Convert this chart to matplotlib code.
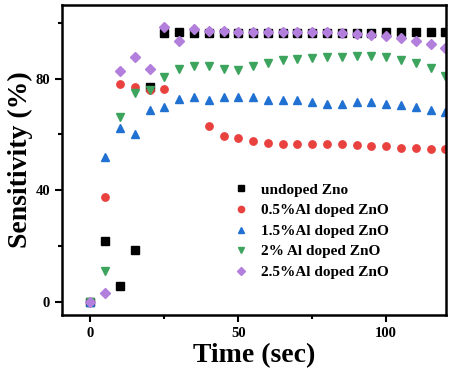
import matplotlib
matplotlib.use('Agg')
import matplotlib.pyplot as plt
from matplotlib.ticker import MultipleLocator
import numpy as np

time = list(range(0, 125, 5))

undoped = [0, 21.8, 5.8, 18.6, 77.0, 96.4, 96.6, 96.5, 96.4, 96.5, 96.5, 96.5, 96.5,
           96.5, 96.5, 96.5, 96.5, 96.5, 96.5, 96.5, 96.6, 96.6, 96.6, 96.6, 96.6]
al_05 = [0, 37.7, 78.2, 77.0, 75.8, 76.3, np.nan, np.nan, 63.1, 59.5, 58.7, 57.8, 56.9,
         56.6, 56.6, 56.6, 56.6, 56.6, 56.3, 56.0, 55.9, 55.3, 55.1, 54.8, 54.8]
al_15 = [0, 52.1, 62.5, 60.1, 68.8, 70.0, 72.7, 73.6, 72.4, 73.3, 73.3, 73.3, 72.4,
         72.2, 72.2, 71.6, 70.9, 70.9, 71.6, 71.6, 70.9, 70.5, 69.7, 68.8, 68.2]
al_2 = [0, 11.0, 66.4, 74.8, 75.8, 80.8, 83.6, 84.7, 84.7, 83.6, 83.2, 84.7, 85.6,
        86.8, 87.2, 87.4, 87.8, 87.8, 88.2, 88.0, 87.8, 86.8, 85.6, 83.8, 81.0]
al_25 = [0, 3.0, 82.6, 87.8, 83.6, 98.7, 93.4, 97.8, 97.3, 97.0, 96.7, 96.7, 96.7,
         96.7, 96.7, 96.7, 96.6, 96.4, 96.1, 95.8, 95.4, 94.6, 93.7, 92.5, 91.0]

labels = ['undoped Zno', '0.5%Al doped ZnO', '1.5%Al doped ZnO',
          '2% Al doped ZnO', '2.5%Al doped ZnO']

fig = plt.figure(figsize=(4.51, 3.76), dpi=100)
ax = fig.add_axes([0.1375, 0.162, 0.852, 0.825])

ax.plot(time, undoped, 's', color='black', ms=5.3, label=labels[0])
ax.plot(time, al_05, 'o', color='#E8413E', ms=5.3, label=labels[1])
ax.plot(time, al_15, '^', color='#2071D2', ms=5.8, label=labels[2])
ax.plot(time, al_2, 'v', color='#3DA45E', ms=5.8, label=labels[3])
ax.plot(time, al_25, 'D', color='#B27FDC', ms=5.3, label=labels[4])

ax.set_xlim(-9.6, 120.3)
ax.set_ylim(-4.8, 106.5)
ax.xaxis.set_major_locator(MultipleLocator(50))
ax.xaxis.set_minor_locator(MultipleLocator(25))
ax.yaxis.set_major_locator(MultipleLocator(40))
ax.yaxis.set_minor_locator(MultipleLocator(20))
ax.tick_params(which='major', direction='out', length=5, width=1.5)
ax.tick_params(which='minor', direction='out', length=3, width=1.5)
for sp in ax.spines.values():
    sp.set_linewidth(1.8)

for lab in ax.get_xticklabels() + ax.get_yticklabels():
    lab.set_fontfamily('Liberation Serif')
    lab.set_fontweight('bold')
    lab.set_fontsize(10.5)

ax.set_xlabel('Time (sec)', fontfamily='Liberation Serif', fontweight='bold', fontsize=20, labelpad=2)
ax.set_ylabel('Sensitivity (%)', fontfamily='Liberation Serif', fontweight='bold', fontsize=20, labelpad=2)

leg = ax.legend(loc='upper left', bbox_to_anchor=(0.41, 0.47), frameon=False,
                handlelength=1, handletextpad=0.8, labelspacing=0.45, markerscale=0.85,
                prop={'family': 'Liberation Serif', 'size': 11, 'weight': 'bold'})

fig.savefig('out.png', dpi=100)
